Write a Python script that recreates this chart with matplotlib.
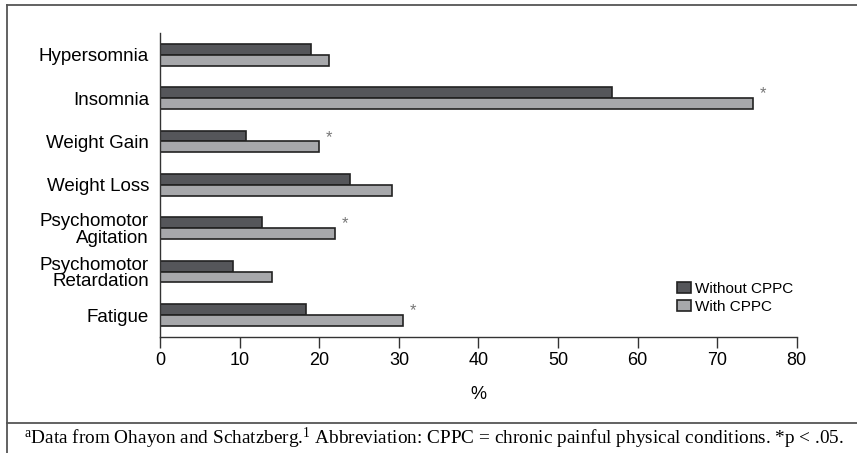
import matplotlib
matplotlib.use("Agg")
import matplotlib.pyplot as plt
from matplotlib.lines import Line2D
import numpy as np

categories = ["Hypersomnia", "Insomnia", "Weight Gain", "Weight Loss",
              "Psychomotor\nAgitation", "Psychomotor\nRetardation", "Fatigue"]
without_cppc = [19.0, 56.8, 10.8, 23.9, 12.8, 9.2, 18.3]
with_cppc = [21.2, 74.5, 20.0, 29.1, 22.0, 14.0, 30.5]
significant = [False, True, True, False, True, False, True]
series_names = ["Without CPPC", "With CPPC"]
x_ticks = [0, 10, 20, 30, 40, 50, 60, 70, 80]
x_label = "%"
footnote = (r"$^{\mathrm{a}}$Data from Ohayon and Schatzberg.$^{1}$ Abbreviation: "
            r"CPPC = chronic painful physical conditions. *p < .05.")

plt.rcParams['font.family'] = ['Liberation Sans', 'DejaVu Sans']
plt.rcParams['mathtext.fontset'] = 'custom'
plt.rcParams['mathtext.rm'] = 'Liberation Serif'
plt.rcParams['mathtext.it'] = 'Liberation Serif:italic'

W, H = 857, 453
fig = plt.figure(figsize=(W / 100, H / 100), dpi=100)
ax = fig.add_axes([160.2 / W, 1 - 336.7 / H, (796.8 - 160.2) / W, (336.7 - 33) / H])

n = len(categories)
ypos = np.arange(n)[::-1]  # first category at top
h = 0.25
dark = "#55565a"
light = "#a7a8ab"
edge = "#222222"

ax.barh(ypos + h / 2, without_cppc, height=h, color=dark, edgecolor=edge,
        linewidth=1.2, label=series_names[0])
ax.barh(ypos - h / 2, with_cppc, height=h, color=light, edgecolor=edge,
        linewidth=1.2, label=series_names[1])

for y, v, s in zip(ypos, with_cppc, significant):
    if s:
        ax.text(v + 0.8, y + 0.1, "*", fontsize=12, color="#777777",
                ha="left", va="center")

ax.set_xlim(0, 80)
ax.set_ylim(-0.5, n - 0.5)
ax.set_xticks(x_ticks)
ax.set_xticklabels([str(t) for t in x_ticks], fontsize=13)
ax.set_yticks(ypos)
ax.set_yticklabels(categories, fontsize=13.5, linespacing=0.95)
ax.tick_params(axis='y', length=0, pad=8)
ax.tick_params(axis='x', length=8, width=1.0, color="#333333", pad=3)
ax.set_xlabel(x_label, fontsize=13, labelpad=12)
for sp in ["top", "right"]:
    ax.spines[sp].set_visible(False)
for sp in ["left", "bottom"]:
    ax.spines[sp].set_color("#333333")
    ax.spines[sp].set_linewidth(1.0)

leg = fig.legend(loc="upper left", bbox_to_anchor=(677 / W, 1 - 282 / H),
                 frameon=False, fontsize=11, handlelength=0.9, handleheight=0.75,
                 handletextpad=0.25, labelspacing=0.25, borderpad=0, borderaxespad=0)

# outer frame and separator
lc = "#555555"
fig.add_artist(Line2D([7 / W, 1.0], [1 - 5 / H, 1 - 5 / H], color=lc, lw=1.3,
                      transform=fig.transFigure))
fig.add_artist(Line2D([7 / W, 7 / W], [1 - 5 / H, 0], color=lc, lw=1.3,
                      transform=fig.transFigure))
fig.add_artist(Line2D([7 / W, 1.0], [1 - 422.5 / H, 1 - 422.5 / H], color=lc, lw=1.3,
                      transform=fig.transFigure))

fig.text(24 / W, 1 - 438 / H, footnote, fontsize=13.9, family="Liberation Serif",
         ha="left", va="center")

fig.savefig("out.png", dpi=100)
